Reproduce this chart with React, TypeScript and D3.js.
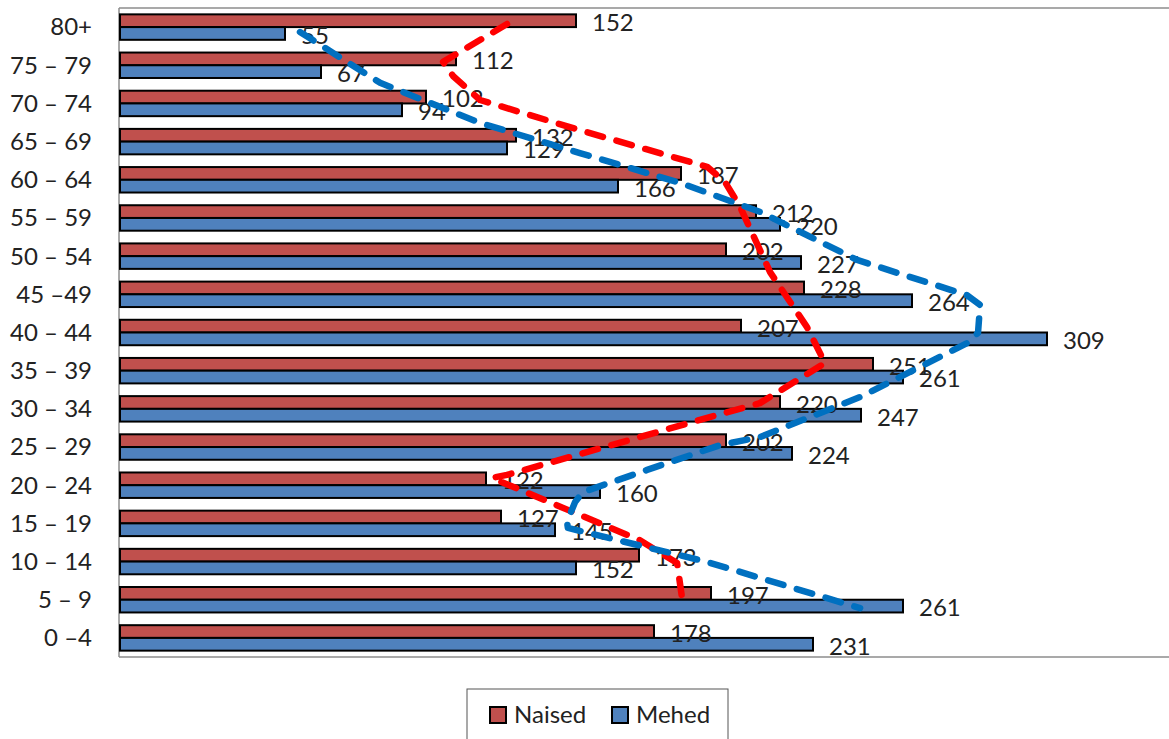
import React from "react";
import * as d3 from "d3";

const ageGroups = ["80+", "75 – 79", "70 – 74", "65 – 69", "60 – 64", "55 – 59", "50 – 54", "45 –49", "40 – 44", "35 – 39", "30 – 34", "25 – 29", "20 – 24", "15 – 19", "10 – 14", "5 – 9", "0 –4"];
const naised = [152, 112, 102, 132, 187, 212, 202, 228, 207, 251, 220, 202, 122, 127, 173, 197, 178];
const mehed = [55, 67, 94, 129, 166, 220, 227, 264, 309, 261, 247, 224, 160, 145, 152, 261, 231];
const seriesNames = ["Naised", "Mehed"];
const seriesColors = ["#C0504D", "#4F81BD"];

// hand-drawn dashed annotation lines: [value, row position (0 = first age group)]
const redOutline: [number, number][] = [
  [129.0, -0.08], [107.7, 0.91], [111.0, 1.28], [120.0, 1.91], [153.3, 2.7], [195.7, 3.66],
  [201.7, 4.06], [206.7, 4.71], [216.7, 6.42], [229.0, 7.86], [235.0, 8.8], [213.3, 9.85],
  [193.3, 10.29], [129.0, 11.73], [124.0, 11.81], [173.3, 13.44], [185.7, 14.04], [187.3, 14.93],
];
const blueOutline: [number, number][] = [
  [60.0, 0.13], [86.7, 1.46], [120.0, 2.51], [153.3, 3.3], [186.7, 4.08], [213.3, 4.84],
  [245.7, 6.1], [282.3, 7.02], [286.7, 7.28], [286.0, 8.01], [282.3, 8.28], [246.7, 9.69],
  [213.3, 10.74], [200.0, 10.95], [175.7, 11.6], [154.3, 12.18], [151.7, 12.44], [149.0, 12.96],
  [149.3, 13.12], [195.7, 14.01], [246.7, 15.22],
];

const W = 1169;
const H = 739;
const left = 119;
const top = 8;
const bottom = 657;
const font = "Lato, 'Open Sans', sans-serif";
const textColor = "#222222";

export default function App() {
  const x = d3.scaleLinear().domain([0, 350]).range([left + 1, left + 1 + 1050]);
  const y = d3.scaleBand<string>().domain(ageGroups).range([top, bottom]).paddingInner(0).paddingOuter(0);
  const inner = d3.scaleBand<string>().domain(seriesNames).range([0, y.bandwidth()]).paddingInner(0).paddingOuter(0.5);
  const yPos = d3.scaleLinear().domain([-0.5, ageGroups.length - 0.5]).range([top, bottom]);
  const line = d3
    .line<[number, number]>()
    .x((d) => x(d[0]))
    .y((d) => yPos(d[1]))
    .curve(d3.curveLinear);

  const series = [naised, mehed];

  return (
    <svg width={W} height={H} style={{ position: "absolute", left: 0, top: 0, background: "#fff" }} fontFamily={font}>
      {/* plot border */}
      <line x1={left} x2={W} y1={top} y2={top} stroke="#8c8c8c" strokeWidth={1.5} />
      <line x1={left} x2={W} y1={bottom} y2={bottom} stroke="#8c8c8c" strokeWidth={1.5} />
      <line x1={left} x2={left} y1={top} y2={bottom} stroke="#8c8c8c" strokeWidth={1.5} />

      {/* category labels */}
      {ageGroups.map((g) => (
        <text
          key={g}
          x={92}
          y={(y(g) as number) + y.bandwidth() / 2}
          dy="0.35em"
          textAnchor="end"
          fontSize={24}
          fill={textColor}
        >
          {g}
        </text>
      ))}

      {/* bars */}
      {series.map((vals, si) =>
        vals.map((v, i) => {
          const g = ageGroups[i];
          const by = (y(g) as number) + (inner(seriesNames[si]) as number);
          return (
            <rect
              key={`${si}-${i}`}
              x={x(0)}
              y={by}
              width={x(v) - x(0)}
              height={inner.bandwidth()}
              fill={seriesColors[si]}
              stroke="#000"
              strokeWidth={2}
            />
          );
        })
      )}

      {/* value labels */}
      {series.map((vals, si) =>
        vals.map((v, i) => {
          const g = ageGroups[i];
          const cy = (y(g) as number) + (inner(seriesNames[si]) as number) + inner.bandwidth() / 2 + 2;
          return (
            <text key={`l-${si}-${i}`} x={x(v) + 16} y={cy} dy="0.35em" fontSize={24} fill={textColor}>
              {v}
            </text>
          );
        })
      )}

      {/* dashed annotation outlines */}
      <path
        d={line(redOutline) || ""}
        fill="none"
        stroke="#FF0000"
        strokeWidth={6.5}
        strokeDasharray="16 14"
        strokeLinecap="round"
        strokeLinejoin="round"
      />
      <path
        d={line(blueOutline) || ""}
        fill="none"
        stroke="#0070C0"
        strokeWidth={6.5}
        strokeDasharray="16 14"
        strokeLinecap="round"
        strokeLinejoin="round"
      />

      {/* legend */}
      <rect x={467} y={689} width={261} height={70} fill="#fff" stroke="#555" strokeWidth={1} />
      {seriesNames.map((n, i) => {
        const lx = i === 0 ? 490 : 612;
        return (
          <g key={n}>
            <rect x={lx} y={707} width={16} height={16} fill={seriesColors[i]} stroke="#000" strokeWidth={2} />
            <text x={lx + 24} y={715} dy="0.35em" fontSize={24} fill={textColor}>
              {n}
            </text>
          </g>
        );
      })}
    </svg>
  );
}
